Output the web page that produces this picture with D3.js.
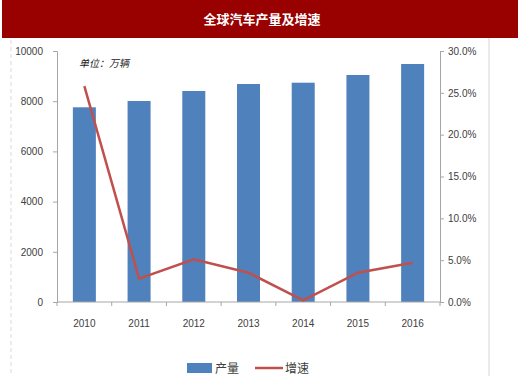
<!DOCTYPE html>
<html>
<head>
<meta charset="utf-8">
<script src="https://cdn.jsdelivr.net/npm/d3@7"></script>
<style>
  body { margin: 0; background: #fff; }
  svg text { font-family: "Liberation Sans", "Noto Sans CJK SC", sans-serif; }
</style>
</head>
<body>
<svg class="chart"></svg>
<script>
const size = {w: 520, h: 384};

// data
const years = ['2010', '2011', '2012', '2013', '2014', '2015', '2016'];
const output = [7757, 8008, 8406, 8685, 8737, 9044, 9482];   // 万辆
const growth = [25.8, 2.8, 5.1, 3.5, 0.2, 3.5, 4.7];        // %
const leftTicks = [0, 2000, 4000, 6000, 8000, 10000];
const rightTicks = [0, 5, 10, 15, 20, 25, 30];

const plot = {left: 57, right: 440, top: 51, bottom: 302};
const barW = 23;

const svg = d3.select('svg.chart')
    .attr('width', size.w)
    .attr('height', size.h);

// title bar
svg.append('rect')
    .attr('x', 2).attr('y', 0)
    .attr('width', 516).attr('height', 38)
    .attr('fill', '#990000');
svg.append('text')
    .attr('x', 262).attr('y', 24)
    .attr('text-anchor', 'middle')
    .attr('fill', '#fff')
    .attr('font-size', 13)
    .attr('font-weight', 'bold')
    .style('font-family', '"Noto Sans CJK SC", sans-serif')
    .text('全球汽车产量及增速');

// panel frame lines
svg.append('line')
    .attr('x1', 11).attr('x2', 11).attr('y1', 40).attr('y2', 376)
    .attr('stroke', '#d9d9d9').attr('stroke-dasharray', '4,3');
svg.append('line')
    .attr('x1', 489).attr('x2', 489).attr('y1', 38).attr('y2', 376)
    .attr('stroke', '#e3e3e3').attr('stroke-width', 1.5);

const xc = d3.scaleBand().domain(years).range([plot.left, plot.right]);
const mid = y => xc(y) + xc.bandwidth() / 2;

const yL = d3.scaleLinear().domain([0, 10000]).range([plot.bottom, plot.top]);
const yR = d3.scaleLinear().domain([0, 30]).range([plot.bottom, plot.top]);

// bars
svg.append('g').selectAll('rect')
    .data(output)
    .join('rect')
    .attr('x', (d, i) => mid(years[i]) - barW / 2)
    .attr('width', barW)
    .attr('y', d => yL(d))
    .attr('height', d => plot.bottom - yL(d))
    .attr('fill', '#4f81bd');

// axes
const axisStyle = g => {
    g.select('.domain').attr('stroke', '#a6a6a6');
    g.selectAll('.tick line').attr('stroke', '#a6a6a6');
    g.selectAll('.tick text').attr('fill', '#404040').attr('font-size', 10);
};

svg.append('g')
    .attr('transform', `translate(${plot.left},0)`)
    .call(d3.axisLeft(yL).tickValues(leftTicks).tickSize(4).tickSizeOuter(4).tickPadding(10).tickFormat(d3.format('d')))
    .call(axisStyle);

svg.append('g')
    .attr('transform', `translate(${plot.right},0)`)
    .call(d3.axisRight(yR).tickValues(rightTicks).tickSize(4).tickSizeOuter(4).tickPadding(4).tickFormat(d => d.toFixed(1) + '%'))
    .call(axisStyle);

const xAxis = svg.append('g')
    .attr('transform', `translate(0,${plot.bottom})`)
    .call(d3.axisBottom(xc).tickSize(0).tickPadding(18))
    .call(axisStyle);
xAxis.select('.domain').attr('d', `M${plot.left},0H${plot.right}`);
// tick marks between categories
xAxis.selectAll('line.sep')
    .data(d3.range(years.length + 1))
    .join('line')
    .classed('sep', true)
    .attr('x1', i => plot.left + i * xc.step())
    .attr('x2', i => plot.left + i * xc.step())
    .attr('y1', 0).attr('y2', 4)
    .attr('stroke', '#a6a6a6');

// growth line
const line = d3.line()
    .x((d, i) => mid(years[i]))
    .y(d => yR(d));

svg.append('path')
    .datum(growth)
    .attr('d', line)
    .attr('fill', 'none')
    .attr('stroke', '#c0504d')
    .attr('stroke-width', 2.5);

// unit note
svg.append('text')
    .attr('x', 79).attr('y', 67)
    .attr('font-size', 10)
    .attr('font-style', 'italic')
    .attr('fill', '#222')
    .style('font-family', '"Noto Sans CJK SC", sans-serif')
    .text('单位：万辆');

// legend
const legend = svg.append('g').attr('font-size', 12).style('font-family', '"Noto Sans CJK SC", sans-serif');
legend.append('rect')
    .attr('x', 187).attr('y', 363).attr('width', 25).attr('height', 10)
    .attr('fill', '#4f81bd');
legend.append('text')
    .attr('x', 215).attr('y', 372.5).attr('fill', '#404040')
    .text('产量');
legend.append('line')
    .attr('x1', 255).attr('x2', 283).attr('y1', 368).attr('y2', 368)
    .attr('stroke', '#c0504d').attr('stroke-width', 2.5);
legend.append('text')
    .attr('x', 285).attr('y', 372.5).attr('fill', '#404040')
    .text('增速');
</script>
</body>
</html>
